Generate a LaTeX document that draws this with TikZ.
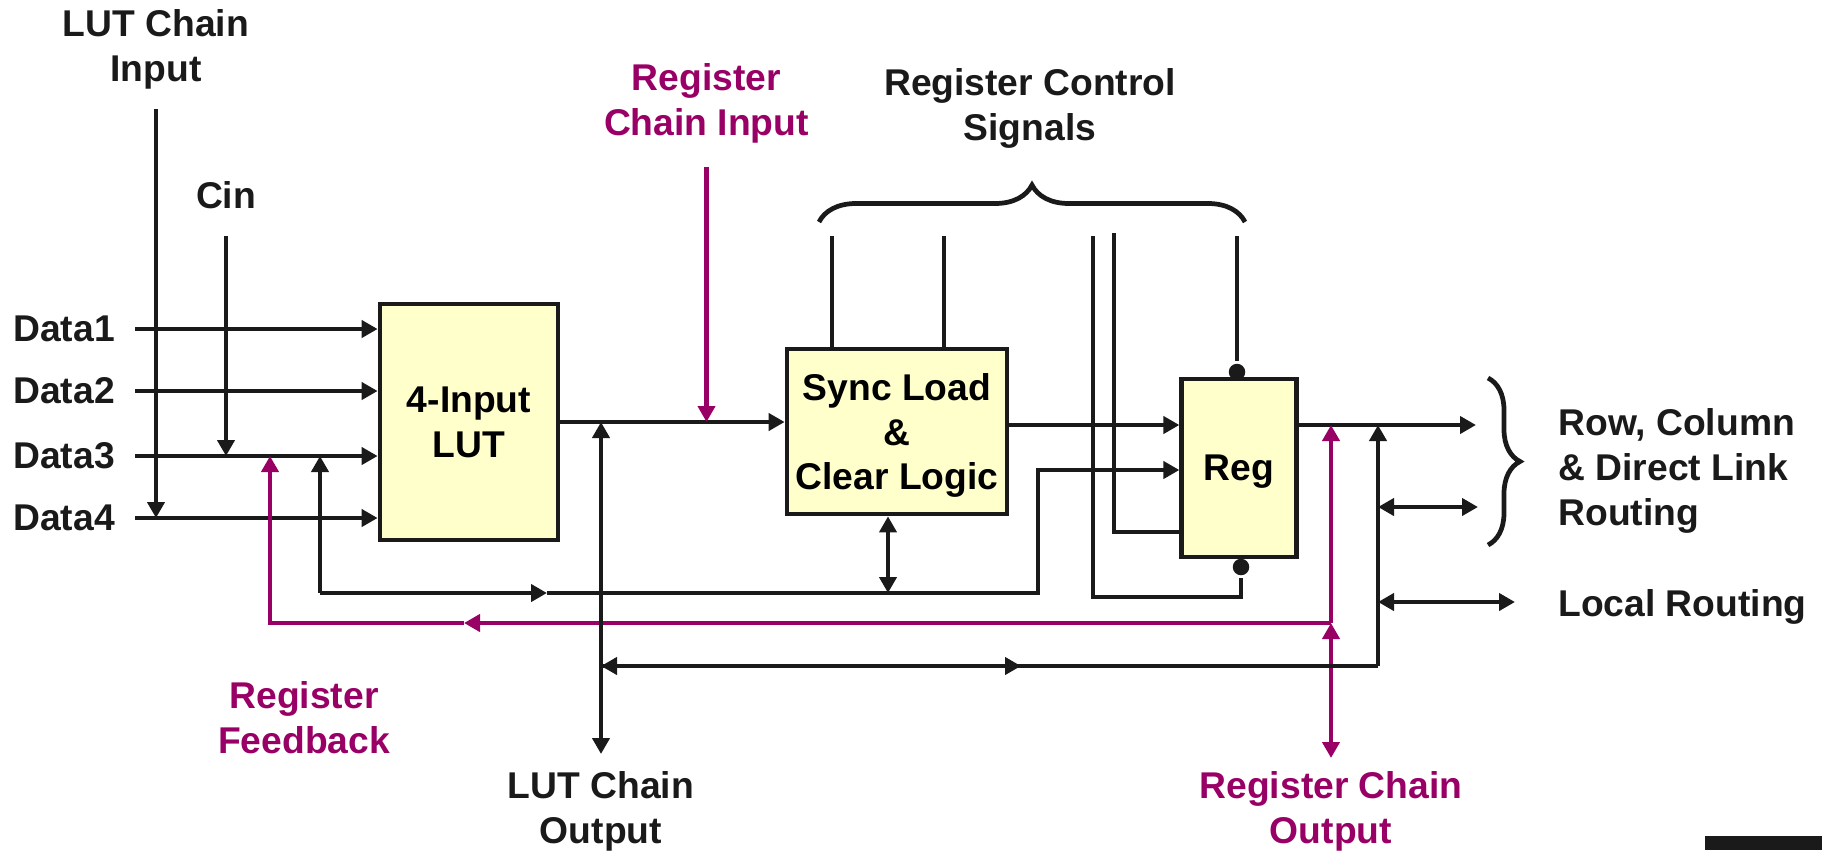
\documentclass[tikz,border=0pt]{standalone}
\usepackage{fontspec}
\setmainfont{Liberation Sans}
\usetikzlibrary{arrows.meta, positioning, decorations.pathreplacing}
\definecolor{wire}{HTML}{1A1A1A}
\definecolor{regpurple}{HTML}{990066}
\definecolor{lutfill}{HTML}{FFFFCC}
\newcommand{\lblfont}{\fontsize{21.2pt}{25.6pt}\selectfont\bfseries}

\begin{document}
\begin{tikzpicture}[
      x=0.02cm, y=-0.02cm, line width=2.7pt,
      box/.style={draw=wire, fill=lutfill, align=center, inner sep=0pt, text depth=0pt, font=\lblfont},
      lab/.style={align=center, inner sep=0pt, font=\lblfont, text=wire},
      plab/.style={lab, text=regpurple},
      arr/.style={draw=wire, -{Triangle[length=3.2mm, width=3.4mm]}},
      dbl/.style={draw=wire, {Triangle[length=3.2mm, width=3.4mm]}-{Triangle[length=3.2mm, width=3.4mm]}},
      parr/.style={arr, draw=regpurple},
      pdbl/.style={dbl, draw=regpurple},
      wir/.style={draw=wire},
      dot/.style={circle, fill=wire, inner sep=0pt, minimum size=3.3mm},
      brc/.style={draw=wire, decorate, decoration={brace, amplitude=#1}}]
    \useasboundingbox (0,0) rectangle (1822,850);
    % blocks
    \node[box, minimum width=3.56cm, minimum height=4.72cm] (lut) at (469,422) {4-Input\\LUT};
    \node[box, minimum width=4.4cm, minimum height=3.3cm] (sync) at (897,431.5) {Sync Load\\\&\\Clear Logic};
    \node[box, minimum width=2.29cm, minimum height=3.56cm] (reg) at (1239,468) {Reg};
    \node[dot] (ctop) at (1237,372) {};
    \node[dot] (cbot) at (1241,567) {};
    % data inputs
    \node[lab, anchor=west] (d1) at (11,329) {Data1};
    \node[lab, anchor=west] (d2) at (11,391) {Data2};
    \node[lab, anchor=west] (d3) at (11,456) {Data3};
    \node[lab, anchor=west] (d4) at (11,518) {Data4};
    \draw[arr, shorten <=3.6mm] (d1.east) -- (d1.east -| lut.west);
    \draw[arr, shorten <=3.6mm] (d2.east) -- (d2.east -| lut.west);
    \draw[arr, shorten <=3.6mm] (d3.east) -- (d3.east -| lut.west);
    \draw[arr, shorten <=3.6mm] (d4.east) -- (d4.east -| lut.west);
    % chain and carry inputs
    \coordinate (lci) at (156,109);
    \node[lab, above=3.4mm of lci] (lcilab) {LUT Chain\\Input};
    \draw[arr] (lci) -- (lci |- d4);
    \coordinate (cin) at (226,236);
    \node[lab, above=5.0mm of cin] (cinlab) {Cin};
    \draw[arr] (cin) -- (cin |- d3);
    \coordinate (rci) at (706.5,167);
    \node[plab, above=4.3mm of rci] (rcilab) {Register\\Chain Input};
    \draw[arr] (lut.east) -- (lut.east -| sync.west);
    \draw[parr] (rci) -- (rci |- lut.east);
    % register control signals
    \draw[brc=7.4mm] (819,222) -- (1245,222);
    \node[lab, anchor=north] (rcslab) at (1030,66) {Register Control\\Signals};
    \coordinate (ctl1) at (832,236);
    \coordinate (ctl2) at (944,236);
    \coordinate (ctl3) at (1093,236);
    \coordinate (ctl4) at (1114,233);
    \coordinate (ctl5) at (1237,236);
    \coordinate (ctl3b) at (1093,597);
    \coordinate (ctl4b) at (1114,532);
    \draw[wir] (ctl1) -- (ctl1 |- sync.north);
    \draw[wir] (ctl2) -- (ctl2 |- sync.north);
    \draw[wir] (ctl3) -- (ctl3b) -| (cbot);
    \draw[wir] (ctl4) -- (ctl4b) -- (ctl4b -| reg.west);
    \draw[wir] (ctl5) -- (ctop);
    % register inputs and output
    \coordinate (rout) at (1476,425);
    \draw[arr] (sync.east |- rout) -- (reg.west |- rout);
    \draw[arr] (reg.east |- rout) -- (rout);
    \coordinate (lfb) at (320,593);
    \coordinate (lfbm) at (547,593);
    \coordinate (lfbr) at (1038,593);
    \coordinate (rin2) at (1038,470);
    \coordinate (sclr) at (888,593);
    \draw[arr] (lfb) -- (lfb |- d3);
    \draw[arr] (lfb) -- (lfbm);
    \draw[arr] (lfbm) -- (lfbr) -- (rin2) -- (rin2 -| reg.west);
    \draw[dbl] (sclr) -- (sclr |- sync.south);
    % register feedback and register chain output
    \coordinate (pfb) at (1331,623);
    \coordinate (pfbm) at (464,623);
    \coordinate (pfbl) at (270,623);
    \coordinate (rco) at (1331,758);
    \draw[parr] (pfb) -- (pfbm);
    \draw[parr] (pfbm) -- (pfbl) -- (pfbl |- d3);
    \draw[parr] (pfb) -- (pfb |- rout);
    \draw[pdbl] (pfb) -- (rco);
    \node[plab, anchor=north] (rfblab) at (304,679) {Register\\Feedback};
    \node[plab, below=2.3mm of rco] (rcolab) {Register Chain\\Output};
    % LUT chain output and routing
    \coordinate (lco) at (601,754);
    \draw[dbl] (lco) -- (lco |- lut.east);
    \node[lab, below=3.1mm of lco] (lcolab) {LUT Chain\\Output};
    \coordinate (loc1) at (601,666);
    \coordinate (locm) at (1021,666);
    \coordinate (loc2) at (1378,666);
    \coordinate (dlr) at (1478,507);
    \coordinate (lr) at (1515,602);
    \draw[arr] (loc2) -- (loc1);
    \draw[arr] (loc1) -- (locm);
    \draw[arr] (loc2) -- (loc2 |- rout);
    \draw[dbl] (loc2 |- dlr) -- (dlr);
    \draw[dbl] (loc2 |- lr) -- (lr);
    \draw[brc=6.4mm] (1488,378) -- (1488,545);
    \node[lab, align=left, anchor=north west] (rcdlab) at (1556,406) {Row, Column\\\& Direct Link\\Routing};
    \node[lab, anchor=base west] (lrlab) at (1556,616) {Local Routing};
    \fill[wire] (1705,836) rectangle (1822,850);
  \end{tikzpicture}
\end{document}
